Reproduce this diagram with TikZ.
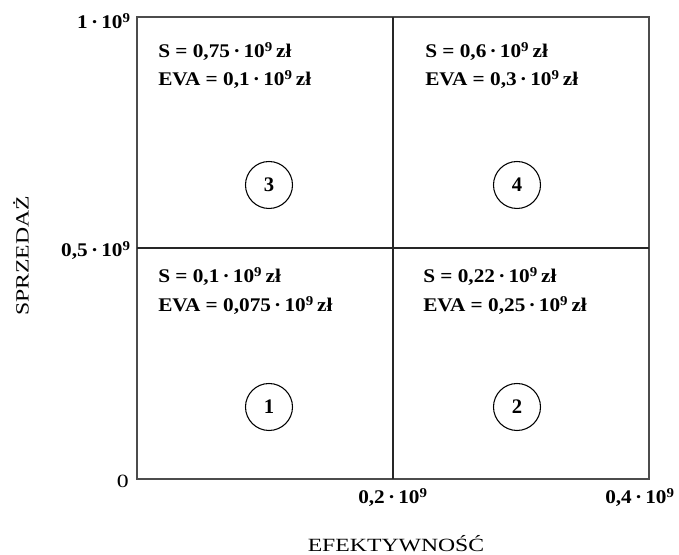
\documentclass[tikz,border=0pt]{standalone}
\usepackage{fontspec}
\setmainfont{Liberation Serif}
\newfontfamily\axisfont[FakeStretch=1.27]{Liberation Serif}
\newfontfamily\valfont[FakeStretch=1.1]{Liberation Serif}
\usetikzlibrary{positioning}

\begin{document}
\begin{tikzpicture}[
    x=0.75pt, y=0.75pt,
    every node/.style={inner sep=0pt},
    val/.style={anchor=base west, font=\valfont\fontsize{14.5}{17}\selectfont\bfseries},
    tick/.style={font=\valfont\fontsize{14.5}{17}\selectfont\bfseries},
    axisname/.style={font=\axisfont\fontsize{14}{16}\selectfont},
    quad/.style={circle, draw=black, thick, minimum size=47*0.75pt, font=\fontsize{15.5}{17}\selectfont\bfseries},
    frame/.style={draw=black!70, line width=1.3pt},
    grid line/.style={draw=black!85, line width=1pt}
]
\useasboundingbox (0,0) rectangle (679,555);

% frame and quadrant lines
\coordinate (ll) at (137,76);
\coordinate (ur) at (649,538);
\coordinate (mid) at (393,307);
\draw[frame] (ll) rectangle (ur);
\draw[grid line] (mid |- ll) -- (mid |- ur);
\draw[grid line] (mid -| ll) -- (mid -| ur);

% axis ticks
\node[tick, anchor=base east] (y1) at (131,526) {1\,·\,10\textsuperscript{9}};
\node[tick, anchor=base east] (y05) at (131,298) {0,5\,·\,10\textsuperscript{9}};
\node[axisname, anchor=base east] (y0) at (129,67) {0};
\node[tick, anchor=base] (x02) at (393,51) {0,2\,·\,10\textsuperscript{9}};
\node[tick, anchor=base] (x04) at (640,51) {0,4\,·\,10\textsuperscript{9}};

% axis names
\node[axisname, anchor=base] (xname) at (396,3) {EFEKTYWNOŚĆ};
\node[axisname, rotate=90] (yname) at (21,299) {SPRZEDAŻ};

% quadrant values
\node[val] (s3) at (158,497) {S = 0,75\,·\,10\textsuperscript{9}\,zł};
\node[val] (e3) at (158,469) {EVA = 0,1\,·\,10\textsuperscript{9}\,zł};
\node[val] (s4) at (425,497) {S = 0,6\,·\,10\textsuperscript{9}\,zł};
\node[val] (e4) at (425,469) {EVA = 0,3\,·\,10\textsuperscript{9}\,zł};
\node[val] (s1) at (158,272) {S = 0,1\,·\,10\textsuperscript{9}\,zł};
\node[val] (e1) at (158,243) {EVA = 0,075\,·\,10\textsuperscript{9}\,zł};
\node[val] (s2) at (423,272) {S = 0,22\,·\,10\textsuperscript{9}\,zł};
\node[val] (e2) at (423,243) {EVA = 0,25\,·\,10\textsuperscript{9}\,zł};

% quadrant numbers
\node[quad] (q3) at (269,370) {3};
\node[quad] (q4) at (517,370) {4};
\node[quad] (q1) at (269,148) {1};
\node[quad] (q2) at (517,148) {2};

\end{tikzpicture}
\end{document}
